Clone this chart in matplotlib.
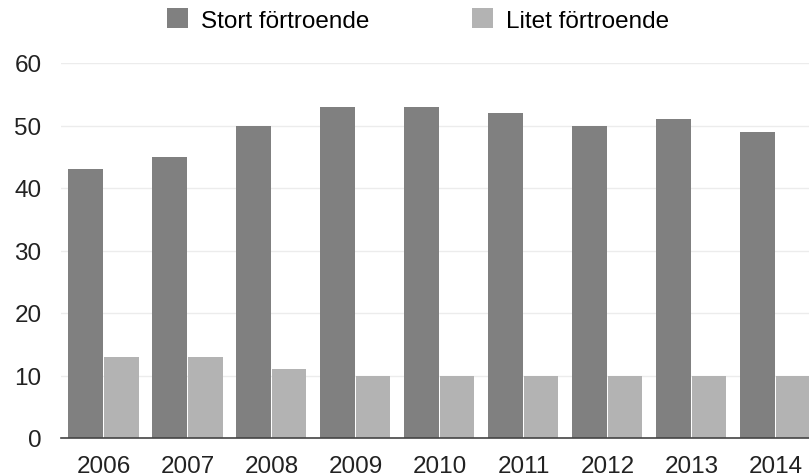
import matplotlib.pyplot as plt
import numpy as np

years = ["2006", "2007", "2008", "2009", "2010", "2011", "2012", "2013", "2014"]
stort = [43, 45, 50, 53, 53, 52, 50, 51, 49]
litet = [13, 13, 11, 10, 10, 10, 10, 10, 10]

plt.rcParams["font.family"] = ["Liberation Sans", "DejaVu Sans"]

fig = plt.figure(figsize=(8.09, 4.77), dpi=100)
ax = fig.add_axes([61 / 809, 38 / 477, 1 - 61 / 809, (439 - 64) / 477])

x = np.arange(len(years))
w = 0.41
ax.bar(x - 0.212, stort, width=w, color="#808080", label="Stort förtroende", zorder=3)
ax.bar(x + 0.212, litet, width=w, color="#b3b3b3", label="Litet förtroende", zorder=3)

ax.set_xlim(-0.506, 8.40)
ax.set_ylim(0, 60)
ax.set_yticks(range(0, 61, 10))
ax.set_xticks(x)
ax.set_xticklabels(years)
ax.tick_params(axis="both", length=0, labelsize=17.5, colors="#222222")
ax.tick_params(axis="y", pad=14)
ax.tick_params(axis="x", pad=12)
ax.grid(axis="y", color="#ececec", linewidth=1, zorder=0)
for s in ["top", "right", "left"]:
    ax.spines[s].set_visible(False)
ax.spines["bottom"].set_color("#444444")
ax.spines["bottom"].set_linewidth(1.2)
ax.spines["bottom"].set_zorder(4)

fig.legend(loc="center", bbox_to_anchor=(0.517, 0.956), ncol=2, frameon=False,
           fontsize=17.5, handlelength=0.85, handleheight=0.85, handletextpad=0.55,
           columnspacing=4.2)

fig.savefig("out.png", dpi=100)
plt.close(fig)
